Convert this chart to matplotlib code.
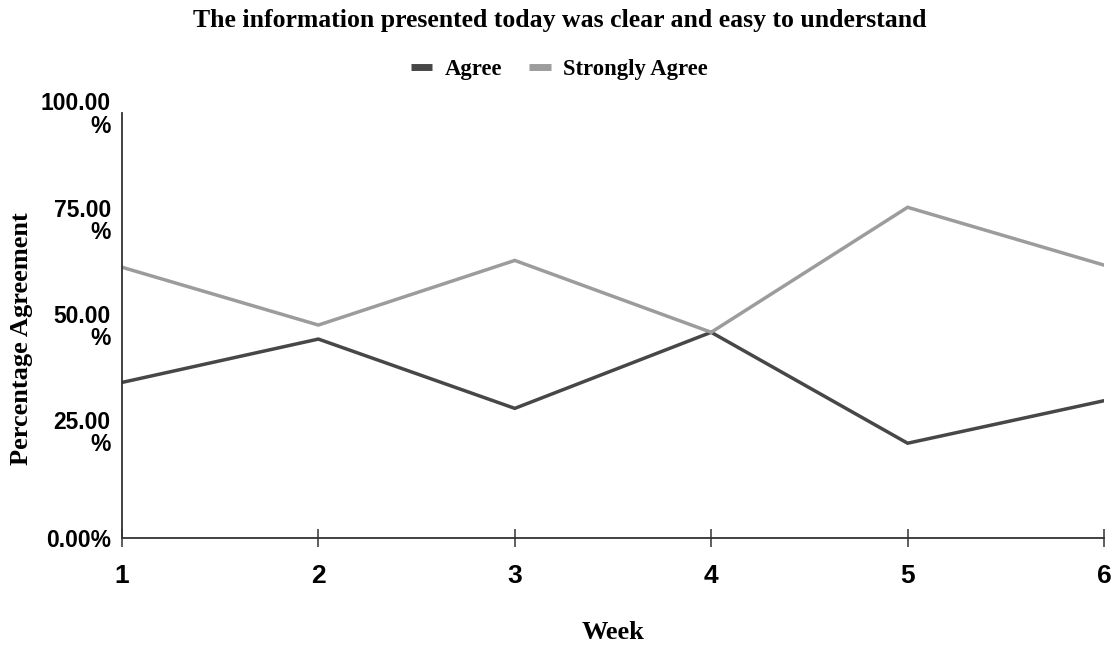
import matplotlib
matplotlib.use("Agg")
import matplotlib.pyplot as plt
from matplotlib.ticker import FuncFormatter

weeks = [1, 2, 3, 4, 5, 6]
agree = [36.6, 46.8, 30.5, 48.4, 22.3, 32.3]
strongly_agree = [63.7, 50.1, 65.3, 48.4, 77.8, 64.2]
y_ticks = [0, 25, 50, 75, 100]

serif = "Liberation Serif"
sans = "Liberation Sans"

fig = plt.figure(figsize=(11.19, 6.49), dpi=100)
ax = fig.add_axes([0.109, 0.171, 0.8776, 0.655])

ax.plot(weeks, agree, color="#474747", lw=2.5, label="Agree", solid_joinstyle="miter")
ax.plot(weeks, strongly_agree, color="#9c9c9c", lw=2.5, label="Strongly Agree",
        solid_joinstyle="miter")

ax.set_xlim(1, 6)
ax.set_ylim(0, 100)
ax.set_xticks(weeks)
ax.set_yticks(y_ticks)


def pct(v, _):
    s = f"{v:.2f}%"
    return s if v < 10 else s[:-1] + "\n%"


ax.yaxis.set_major_formatter(FuncFormatter(pct))
for lab in ax.get_yticklabels():
    lab.set_fontfamily(sans)
    lab.set_fontweight("bold")
    lab.set_fontsize(16.5)
    lab.set_multialignment("right")
    lab.set_linespacing(0.95)
for lab in ax.get_xticklabels():
    lab.set_fontfamily(sans)
    lab.set_fontweight("bold")
    lab.set_fontsize(19)

ax.tick_params(axis="y", length=0, pad=8)
ax.tick_params(axis="x", direction="inout", length=13, width=1.1, color="#333333", pad=12)

for side in ["top", "right"]:
    ax.spines[side].set_visible(False)
for side in ["left", "bottom"]:
    ax.spines[side].set_color("#333333")
    ax.spines[side].set_linewidth(1.3)

ax.set_xlabel("Week", family=serif, weight="bold", fontsize=19, labelpad=24)
ax.set_ylabel("Percentage Agreement", family=serif, weight="bold", fontsize=19)
ax.yaxis.set_label_coords(-0.091, 0.47)

fig.text(0.5, 0.969, "The information presented today was clear and easy to understand",
         family=serif, weight="bold", fontsize=18.5, ha="center", va="center")

leg = fig.legend(loc="center", bbox_to_anchor=(0.5, 0.893), ncol=2, frameon=False,
                 prop={"family": serif, "weight": "bold", "size": 16.3},
                 handlelength=0.95, handletextpad=0.55, columnspacing=1.2)
for h in leg.get_lines():
    h.set_linewidth(5)
    h.set_solid_capstyle("butt")

fig.savefig("out.png", dpi=100)
